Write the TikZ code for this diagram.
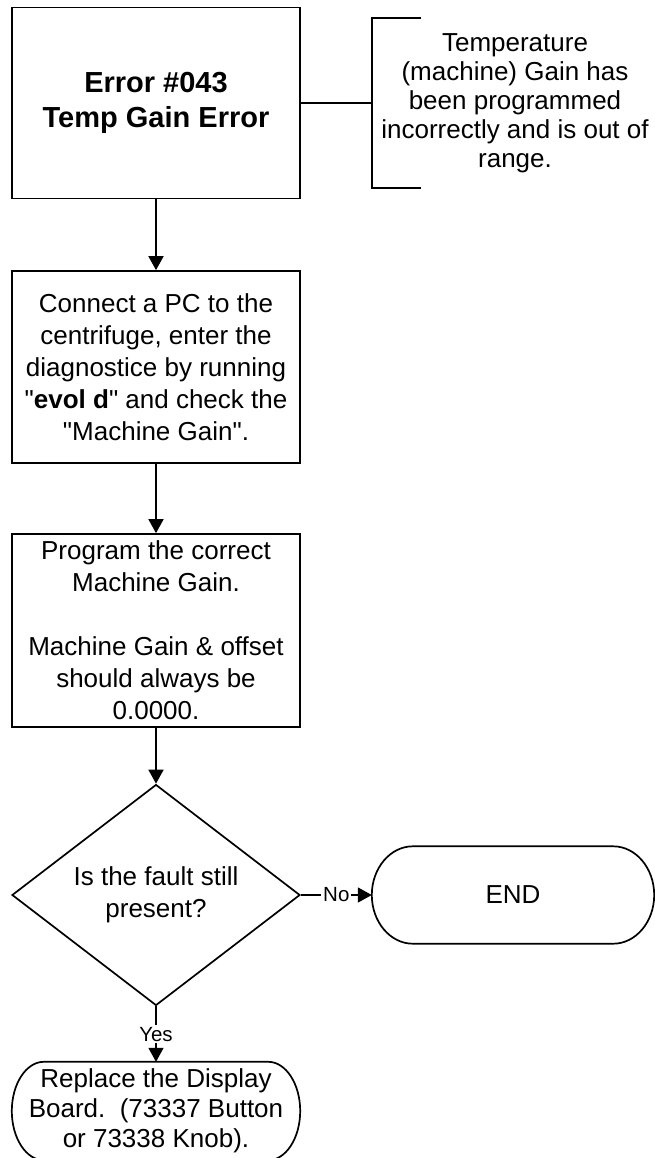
\documentclass[tikz,border=0pt]{standalone}
\usepackage{fontspec}
\setmainfont{Liberation Sans}
\usetikzlibrary{shapes.geometric,arrows.meta}
\begin{document}
\begin{tikzpicture}[x=1pt,y=-1pt,
  line/.style={line width=1.7pt},
  arr/.style={line width=1.7pt, -{Triangle[length=14pt,width=15pt]}},
  box/.style={draw, line width=1.7pt, rectangle, minimum width=288pt, inner sep=0pt, align=center, font=\fontsize{26}{32}\selectfont},
  lbl/.style={fill=white, inner sep=2pt, font=\fontsize{20.5}{24}\selectfont},
  txt/.style={align=center, inner sep=0pt, font=\fontsize{26}{32}\selectfont}]
\useasboundingbox (0,0) rectangle (654,1158);

% nodes
\node[box, minimum height=191pt, font=\bfseries\fontsize{29}{35}\selectfont] (err) at (156,103) {Error \#043\\Temp Gain Error};
\node[txt, minimum width=286pt, minimum height=170pt, font=\fontsize{26}{29}\selectfont] (anno) at (515,103) {Temperature\\(machine) Gain has\\been programmed\\incorrectly and is out of\\range.};
\node[box, minimum height=192pt] (pc) at (156,367) {Connect a PC to the\\centrifuge, enter the\\diagnostice by running\\\textquotedbl\textbf{evol d}\textquotedbl{} and check the\\\textquotedbl Machine Gain\textquotedbl.};
\node[box, minimum height=193pt] (prog) at (156,630.5) {Program the correct\\Machine Gain.\\[32pt]Machine Gain \& offset\\should always be\\0.0000.};
\node[draw, line width=1.7pt, diamond, minimum width=288pt, minimum height=192pt, inner sep=0pt, align=center, font=\fontsize{26}{32}\selectfont] (q) at (156,895) {Is the fault still\\present?};
\node[txt, minimum width=282pt, minimum height=97pt] (end) at (513,895) {END};
\node[txt, minimum width=288pt, minimum height=98pt, font=\fontsize{26}{30}\selectfont] (rep) at (156,1111) {Replace the Display\\Board.~~(73337 Button\\or 73338 Knob).};

% annotation bracket
\draw[line] ([xshift=49pt]anno.north west) -- (anno.north west) -- (anno.south west) -- ([xshift=49pt]anno.south west);
\draw[line] (err.east) -- (anno.west);

% terminator outlines
\draw[line] ([xshift=41pt]end.north west) -- ([xshift=-41pt]end.north east)
  .. controls +(22.6,0) and +(0,-26.8) .. (end.east)
  .. controls +(0,26.8) and +(22.6,0) .. ([xshift=-41pt]end.south east)
  -- ([xshift=41pt]end.south west)
  .. controls +(-22.6,0) and +(0,26.8) .. (end.west)
  .. controls +(0,-26.8) and +(-22.6,0) .. ([xshift=41pt]end.north west) -- cycle;
\draw[line] ([xshift=32pt]rep.north west) -- ([xshift=-32pt]rep.north east)
  .. controls +(17.7,0) and +(0,-27) .. (rep.east)
  .. controls +(0,27) and +(17.7,0) .. ([xshift=-32pt]rep.south east)
  -- ([xshift=32pt]rep.south west)
  .. controls +(-17.7,0) and +(0,27) .. (rep.west)
  .. controls +(0,-27) and +(-17.7,0) .. ([xshift=32pt]rep.north west) -- cycle;

% connectors
\draw[arr] (err) -- (pc);
\draw[arr] (pc) -- (prog);
\draw[arr] (prog) -- (q);
\draw[arr] (q.east) -- node[lbl] {No} (end.west);
\draw[arr] (q) -- node[lbl] {Yes} (rep);
\end{tikzpicture}
\end{document}
